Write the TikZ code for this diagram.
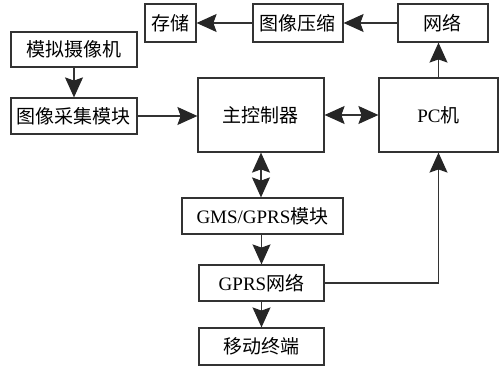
\documentclass[tikz,border=0pt]{standalone}
\usepackage{fontspec}
\setmainfont{Liberation Serif}
\newfontfamily\cjk{Noto Sans CJK SC}
\usetikzlibrary{arrows.meta}
\definecolor{linec}{HTML}{333333}
\begin{document}
\begin{tikzpicture}[x=0.5pt,y=-0.5pt,
  box/.style={draw=linec,line width=0.6pt,rectangle,inner sep=0pt,minimum height=18pt,font=\fontsize{9.5}{11}\selectfont},
  conn/.style={draw=linec,line width=0.6pt,-{Stealth[length=10pt,width=9pt,inset=1.6pt,color=black!85]}},
  dconn/.style={draw=linec,line width=0.6pt,{Stealth[length=10pt,width=9pt,inset=1.6pt,color=black!85]}-{Stealth[length=10pt,width=9pt,inset=1.6pt,color=black!85]}}]
\useasboundingbox (0,0) rectangle (500,368);
\node[box,minimum width=25.5pt,minimum height=19pt] (store) at (170.5,23) {\cjk 存储};
\node[box,minimum width=45pt,minimum height=19pt] (comp) at (298,23) {\cjk 图像压缩};
\node[box,minimum width=45pt,minimum height=19pt] (net) at (443,23) {\cjk 网络};
\node[box,minimum width=63pt,minimum height=17.5pt] (cam) at (74,49.5) {\cjk 模拟摄像机};
\node[box,minimum width=63pt] (acq) at (74,116) {\cjk 图像采集模块};
\node[box,minimum width=63pt,minimum height=37pt] (ctrl) at (261,115) {\cjk 主控制器};
\node[box,minimum width=59.5pt,minimum height=37pt] (pc) at (438.5,115) {PC\cjk 机};
\node[box,minimum width=80.5pt] (gms) at (262.5,216) {GMS/GPRS\cjk 模块};
\node[box,minimum width=62.5pt] (gprs) at (261.5,283) {GPRS\cjk 网络};
\node[box,minimum width=62.5pt,minimum height=18.5pt] (mob) at (261.5,346.5) {\cjk 移动终端};
\draw[conn] (net.west) -- (comp.east);
\draw[conn] (comp.west) -- (store.east);
\draw[conn] (cam.south) -- (acq.north);
\draw[conn] (acq.east) -- (ctrl.west |- acq.east);
\draw[dconn] (ctrl.east) -- (pc.west);
\draw[conn] (pc.north) -- (pc.north |- net.south);
\draw[dconn] (ctrl.south) -- (ctrl.south |- gms.north);
\draw[conn] (gms.south -| gprs.north) -- (gprs.north);
\draw[conn] (gprs.south) -- (mob.north);
\draw[conn] (gprs.east) -| (pc.south);
\end{tikzpicture}
\end{document}
